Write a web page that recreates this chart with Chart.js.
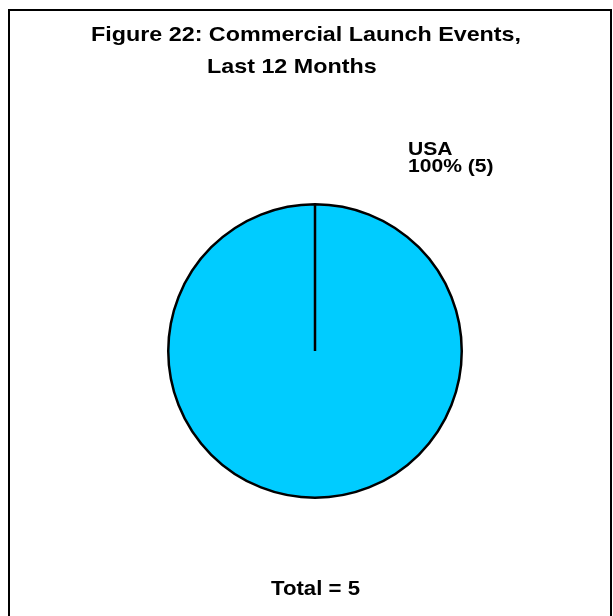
<!DOCTYPE html>
<html>
<head>
<meta charset="utf-8">
<script src="https://cdn.jsdelivr.net/npm/chart.js@4/dist/chart.umd.min.js"></script>
<style>
  html, body { margin: 0; padding: 0; background: #ffffff; }
  #wrap { position: relative; width: 613px; height: 616px; }
</style>
</head>
<body>
<div id="wrap"><canvas id="c" width="613" height="616"></canvas></div>
<script>
// Commercial launch events over the last 12 months, by country
const countries = ['USA'];
const launchCounts = [5];
const sliceColors = ['#00CCFF'];
const titleLines = ['Figure 22: Commercial Launch Events,', 'Last 12 Months'];

const total = launchCounts.reduce((a, b) => a + b, 0);
const FONT = '"Liberation Sans", Arial, Helvetica, sans-serif';
const WIDEN = 1.11; // slightly widened bold lettering

function drawWide(ctx, text, x, y, size) {
  ctx.save();
  ctx.font = 'bold ' + size + 'px ' + FONT;
  ctx.fillStyle = '#000000';
  ctx.textBaseline = 'alphabetic';
  ctx.textAlign = 'left';
  ctx.translate(x, y);
  ctx.scale(WIDEN, 1);
  ctx.fillText(text, 0, 0);
  ctx.restore();
}

const frameAndText = {
  id: 'frameAndText',
  beforeDraw(chart) {
    const ctx = chart.ctx;
    ctx.save();
    ctx.fillStyle = '#ffffff';
    ctx.fillRect(0, 0, chart.width, chart.height);
    ctx.strokeStyle = '#000000';
    ctx.lineWidth = 2;
    ctx.beginPath();
    ctx.moveTo(9, chart.height + 5);
    ctx.lineTo(9, 10);
    ctx.lineTo(611, 10);
    ctx.lineTo(611, chart.height + 5);
    ctx.stroke();
    ctx.restore();
  },
  afterDraw(chart) {
    const ctx = chart.ctx;
    drawWide(ctx, titleLines[0], 91, 41, 21);
    drawWide(ctx, titleLines[1], 207, 73, 21);

    // slice label above the right side of the pie
    const meta = chart.getDatasetMeta(0);
    meta.data.forEach((arc, i) => {
      const pct = Math.round(launchCounts[i] / total * 100);
      drawWide(ctx, countries[i], 408, 155, 19);
      drawWide(ctx, pct + '% (' + launchCounts[i] + ')', 408, 172, 19);
    });

    drawWide(ctx, 'Total = ' + total, 271, 595, 20);
  }
};

new Chart(document.getElementById('c'), {
  type: 'pie',
  data: {
    labels: countries,
    datasets: [{
      data: launchCounts,
      backgroundColor: sliceColors,
      borderColor: '#000000',
      borderWidth: 2.5
    }]
  },
  options: {
    responsive: false,
    animation: false,
    layout: { padding: { left: 167, right: 150, top: 203, bottom: 117 } },
    plugins: {
      legend: { display: false },
      title: { display: false },
      tooltip: { enabled: false }
    }
  },
  plugins: [frameAndText]
});
</script>
</body>
</html>
